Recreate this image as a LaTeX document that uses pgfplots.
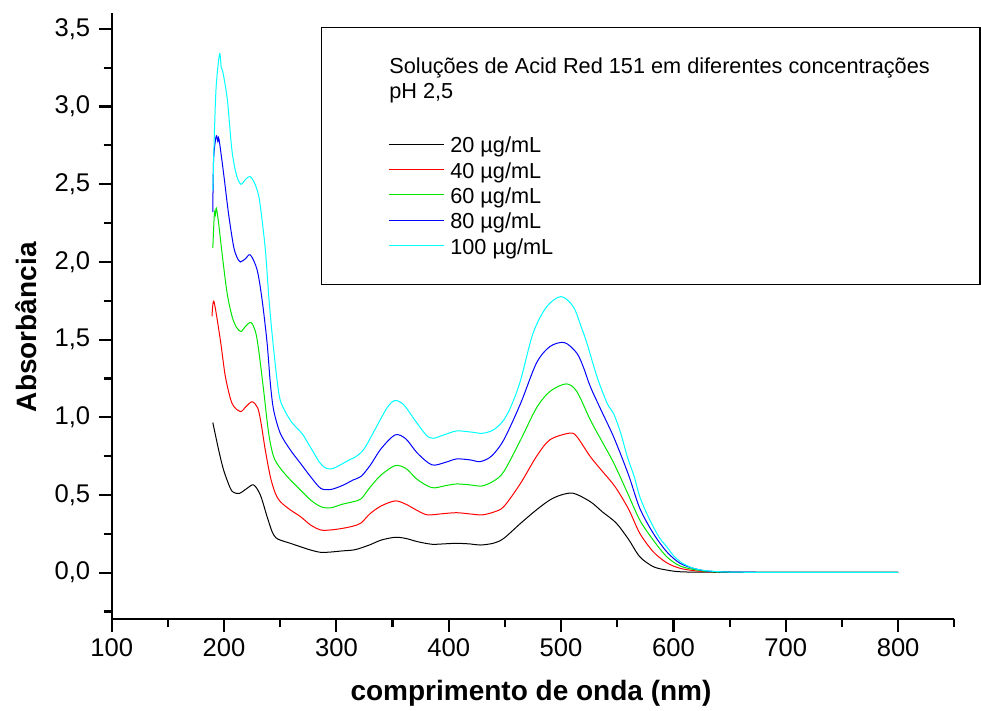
\documentclass[border=0pt]{standalone}
\usepackage{fontspec}
\setmainfont{Liberation Sans}
\usepackage{pgfplots}
\pgfplotsset{compat=1.18}
\definecolor{cR}{RGB}{255,0,0}
\definecolor{cG}{RGB}{0,230,0}
\definecolor{cB}{RGB}{0,0,255}
\definecolor{cC}{RGB}{0,255,255}
\begin{document}
\begin{tikzpicture}
\begin{axis}[
  name=ax,
  scale only axis,
  width=421.3pt, height=303pt,
  xmin=100, xmax=850, ymin=-0.3, ymax=3.6,
  axis lines*=left,
  axis line style={line width=1.1pt},
  tick align=outside,
  major tick length=6.2pt,
  minor tick length=4pt,
  every tick/.style={line width=1.1pt, black},
  xtick={100,200,...,800},
  minor xtick={150,250,...,850},
  ytick={0,0.5,...,3.5},
  minor ytick={-0.25,0.25,...,3.25},
  /pgf/number format/assume math mode=true,
  yticklabel style={xshift=-1pt, /pgf/number format/.cd, fixed, fixed zerofill, precision=1, use comma, assume math mode=true},
  xticklabel style={/pgf/number format/.cd, fixed, precision=0, 1000 sep={}},
  tick label style={font=\fontsize{12.8}{14}\selectfont},
  xlabel={comprimento de onda (nm)},
  ylabel={Absorbância},
  every axis x label/.style={at={(rel axis cs:0.4976,-0.1332)}, anchor=base, font=\bfseries\fontsize{14}{16}\selectfont},
  every axis y label/.style={at={(rel axis cs:-0.1017,0.482)}, anchor=center, rotate=90, font=\bfseries\fontsize{14}{16}\selectfont},
  legend style={at={(rel axis cs:0.3283,0.7997)}, anchor=north west, draw=none, fill=none,
    inner sep=0pt, outer sep=0pt, row sep=0pt, column sep=3pt,
    font=\fontsize{10.85}{13}\selectfont,
    nodes={inner sep=0pt, outer sep=0pt, text height=9pt, text depth=3.7pt}},
  legend cell align=left,
  legend image code/.code={\draw[#1, line width=0.5pt] (0pt,1.6pt) -- (27.5pt,1.6pt);},
  every axis plot/.append style={line width=0.5pt, smooth, tension=0.5},
  clip=false,
]
% 20 ug/mL
\addplot[black] coordinates {
(190,0.966) (195.2,0.79) (199.6,0.661) (205.6,0.543) (209,0.515) (213.9,0.511)
(220,0.54) (226.3,0.565) (232.3,0.50) (238.3,0.361) (242.7,0.265) (246,0.226) (250,0.21)
(259,0.189) (268,0.167) (277,0.146) (286,0.131) (295,0.133) (305,0.14)
(315,0.146) (321,0.157) (330,0.18) (340,0.21) (352.4,0.228) (362,0.22)
(372,0.20) (385,0.183) (397,0.186) (407,0.189) (419,0.185) (428,0.178)
(440,0.19) (449,0.221) (464,0.318) (478,0.404) (490,0.468) (500,0.50) (511,0.511)
(526,0.457) (537,0.39) (549,0.32) (560,0.215) (570,0.103) (582,0.039)
(594,0.017) (606,0.006) (630,0.003) (700,0.002) (800,0.002)};
\addlegendentry{20 µg/mL}
% 40 ug/mL
\addplot[cR] coordinates {
(189.3,1.65) (191,1.745) (196.7,1.498) (201.2,1.262) (207.1,1.09) (214.5,1.037)
(219,1.065) (224.9,1.10) (230,1.06) (233,0.96) (236.7,0.79) (241.2,0.618) (245.6,0.511)
(250.1,0.457) (259,0.404) (268,0.361) (277,0.307) (286,0.275) (295,0.275)
(306,0.286) (315,0.30) (322,0.32) (330,0.38) (340,0.43) (352.4,0.462)
(362,0.44) (372,0.40) (381,0.372) (395,0.38) (407,0.386) (419,0.378)
(429.5,0.372) (440,0.39) (449,0.425) (464,0.576) (478,0.747) (490,0.855)
(507.5,0.898) (514,0.876) (526,0.747) (537,0.65) (548,0.554) (560,0.41)
(570,0.254) (582,0.135) (594,0.064) (606,0.028) (621,0.011) (640,0.004)
(700,0.002) (800,0.002)};
\addlegendentry{40 µg/mL}
% 60 ug/mL
\addplot[cG] coordinates {
(190,2.09) (191.4,2.31) (192.2,2.30) (193.1,2.346) (195,2.26) (198.2,2.057)
(202.7,1.80) (207.1,1.65) (211,1.58) (215.1,1.552) (219,1.585) (224,1.61)
(228,1.55) (230.8,1.434) (235.2,1.176) (239.7,0.898) (244.1,0.747) (250.1,0.672)
(259,0.597) (268,0.532) (277,0.468) (286,0.425) (294.6,0.417) (305,0.44)
(315,0.457) (322,0.475) (330,0.55) (340,0.63) (352.4,0.689) (362,0.67)
(372,0.60) (385,0.547) (397,0.56) (407,0.571) (419,0.565) (429.5,0.558)
(440,0.59) (449,0.65) (464,0.855) (478,1.059) (490,1.166) (504.5,1.215)
(514,1.166) (526,0.983) (536,0.85) (547,0.704) (559,0.515) (570,0.339)
(582,0.21) (594,0.103) (606,0.043) (621,0.017) (640,0.004) (700,0.002) (800,0.002)};
\addlegendentry{60 µg/mL}
% 80 ug/mL
\addplot[cB] coordinates {
(190,2.32) (190.7,2.66) (193,2.81) (194.5,2.775) (195.5,2.79) (199.6,2.57)
(204,2.31) (208.5,2.10) (211.5,2.03) (214.5,2.00) (219,2.02) (223.4,2.045)
(229.4,1.95) (233.8,1.76) (238.3,1.48) (241.2,1.22) (244.1,1.048) (250,0.898)
(259,0.79) (268,0.704) (277,0.618) (286,0.543) (294.6,0.535) (305,0.56)
(315,0.597) (322,0.62) (330,0.69) (340,0.80) (352.4,0.887) (362,0.86)
(372,0.77) (385,0.694) (397,0.71) (407,0.732) (419,0.726) (428,0.715)
(438,0.75) (449,0.855) (464,1.09) (478,1.348) (490,1.455) (503,1.481)
(514,1.413) (520,1.32) (526,1.198) (536,1.04) (547,0.87) (560,0.63)
(570,0.415) (582,0.254) (594,0.135) (606,0.06) (621,0.022) (640,0.006)
(700,0.002) (800,0.002)};
\addlegendentry{80 µg/mL}
% 100 ug/mL
\addplot[cC] coordinates {
(190,2.46) (191.5,2.85) (193,3.13) (196,3.34) (197.5,3.25) (199,3.22)
(203,3.04) (207,2.72) (211,2.56) (215,2.50) (219,2.53) (223,2.55)
(227,2.51) (231,2.42) (234,2.26) (237,2.06) (240,1.76) (243,1.52) (247,1.25)
(250,1.11) (255,1.03) (260,0.97) (265,0.93) (270,0.89) (275,0.83)
(280,0.77) (285,0.71) (290,0.675) (295,0.668) (300,0.68) (310,0.72)
(318,0.75) (325,0.80) (335,0.93) (345,1.06) (352,1.108) (360,1.08)
(370,0.98) (380,0.885) (386,0.865) (395,0.885) (407,0.912) (420,0.905)
(430,0.897) (440,0.92) (449,0.983) (456,1.08) (464,1.24) (475,1.54)
(487,1.71) (500,1.777) (511,1.71) (518,1.58) (523,1.477) (532,1.26)
(541,1.09) (547,1.02) (553,0.90) (559,0.745) (565,0.62) (570,0.49)
(576,0.385) (582,0.296) (588,0.22) (594,0.167) (600,0.11) (606,0.071)
(613,0.042) (621,0.022) (630,0.012) (642,0.006) (660,0.003) (700,0.002) (800,0.002)};
\addlegendentry{100 µg/mL}
\draw[line width=0.6pt] (rel axis cs:0.2492,0.9762) rectangle (rel axis cs:1.0305,0.5528);
\node[anchor=base west, inner sep=0pt, font=\fontsize{10.85}{13}\selectfont] at (rel axis cs:0.3291,0.901) {Soluções de Acid Red 151 em diferentes concentrações};
\node[anchor=base west, inner sep=0pt, font=\fontsize{10.85}{13}\selectfont] at (rel axis cs:0.3291,0.8586) {pH 2,5};
\end{axis}
\pgfresetboundingbox
\path[use as bounding box] ([shift={(-55.85pt,-45.35pt)}]ax.south west) rectangle ([shift={(13.35pt,6.65pt)}]ax.north east);
\end{tikzpicture}
\end{document}
